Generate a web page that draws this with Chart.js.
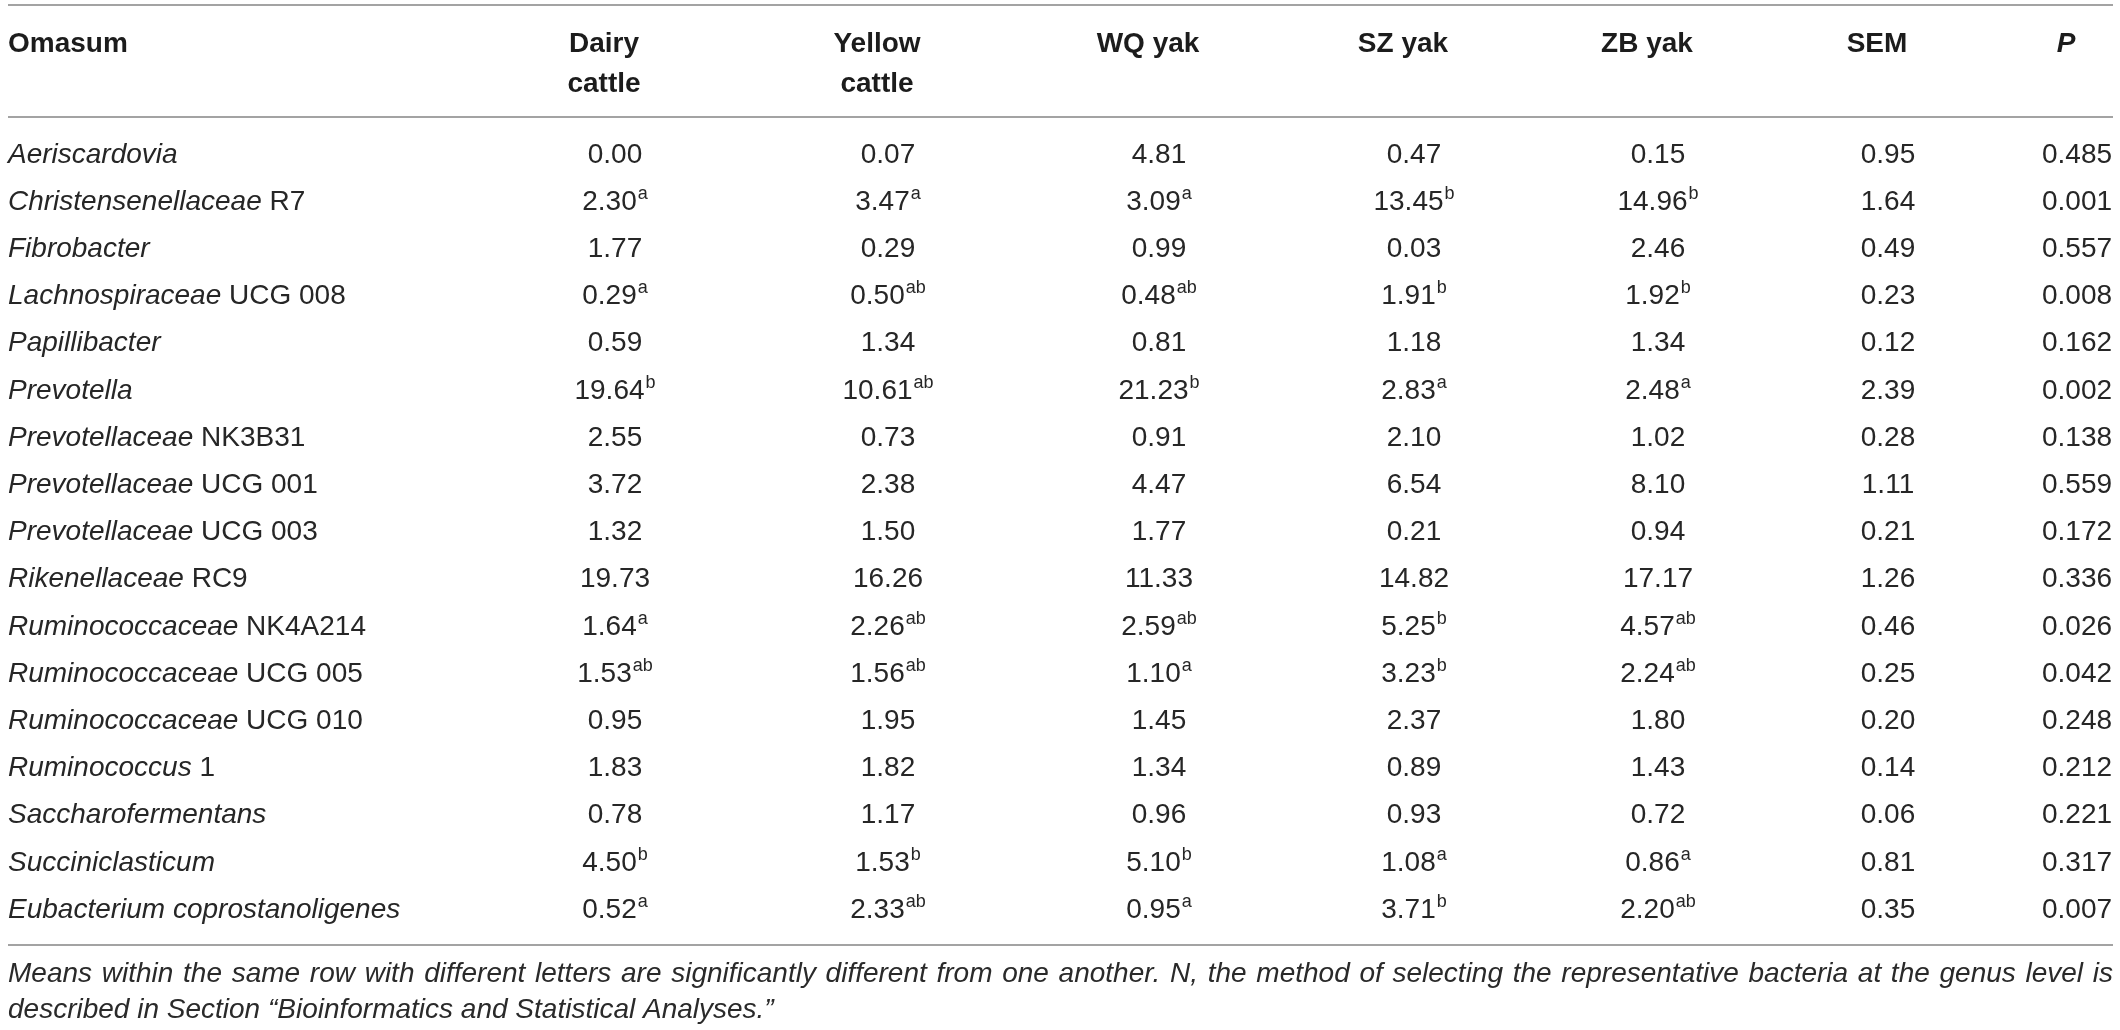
<!DOCTYPE html>
<html>
<head>
<meta charset="utf-8">
<script src="https://cdn.jsdelivr.net/npm/chart.js@4.4.1/dist/chart.umd.min.js"></script>
<style>
html,body{margin:0;padding:0;background:#fff;overflow:hidden;}
#wrap{position:relative;width:2120px;height:1030px;}
</style>
</head>
<body>
<div id="wrap"><canvas id="c"></canvas></div>
<script>
// ---- Data ----
const stubHeader = "Omasum";
const columns = [["Dairy","cattle"],["Yellow","cattle"],["WQ yak"],["SZ yak"],["ZB yak"],["SEM"],["P"]];
const genusItalic = ["Aeriscardovia","Christensenellaceae","Fibrobacter","Lachnospiraceae","Papillibacter","Prevotella","Prevotellaceae","Prevotellaceae","Prevotellaceae","Rikenellaceae","Ruminococcaceae","Ruminococcaceae","Ruminococcaceae","Ruminococcus","Saccharofermentans","Succiniclasticum","Eubacterium coprostanoligenes"];
const genusSuffix = ["", " R7", "", " UCG 008", "", "", " NK3B31", " UCG 001", " UCG 003", " RC9", " NK4A214", " UCG 005", " UCG 010", " 1", "", "", ""];
const dairy  = [0.00, 2.30, 1.77, 0.29, 0.59, 19.64, 2.55, 3.72, 1.32, 19.73, 1.64, 1.53, 0.95, 1.83, 0.78, 4.50, 0.52];
const dairySup  = ["", "a", "", "a", "", "b", "", "", "", "", "a", "ab", "", "", "", "b", "a"];
const yellow = [0.07, 3.47, 0.29, 0.50, 1.34, 10.61, 0.73, 2.38, 1.50, 16.26, 2.26, 1.56, 1.95, 1.82, 1.17, 1.53, 2.33];
const yellowSup = ["", "a", "", "ab", "", "ab", "", "", "", "", "ab", "ab", "", "", "", "b", "ab"];
const wqYak  = [4.81, 3.09, 0.99, 0.48, 0.81, 21.23, 0.91, 4.47, 1.77, 11.33, 2.59, 1.10, 1.45, 1.34, 0.96, 5.10, 0.95];
const wqSup  = ["", "a", "", "ab", "", "b", "", "", "", "", "ab", "a", "", "", "", "b", "a"];
const szYak  = [0.47, 13.45, 0.03, 1.91, 1.18, 2.83, 2.10, 6.54, 0.21, 14.82, 5.25, 3.23, 2.37, 0.89, 0.93, 1.08, 3.71];
const szSup  = ["", "b", "", "b", "", "a", "", "", "", "", "b", "b", "", "", "", "a", "b"];
const zbYak  = [0.15, 14.96, 2.46, 1.92, 1.34, 2.48, 1.02, 8.10, 0.94, 17.17, 4.57, 2.24, 1.80, 1.43, 0.72, 0.86, 2.20];
const zbSup  = ["", "b", "", "b", "", "a", "", "", "", "", "ab", "ab", "", "", "", "a", "ab"];
const sem    = [0.95, 1.64, 0.49, 0.23, 0.12, 2.39, 0.28, 1.11, 0.21, 1.26, 0.46, 0.25, 0.20, 0.14, 0.06, 0.81, 0.35];
const pValue = [0.485, 0.001, 0.557, 0.008, 0.162, 0.002, 0.138, 0.559, 0.172, 0.336, 0.026, 0.042, 0.248, 0.212, 0.221, 0.317, 0.007];
const footnoteLine1 = "Means within the same row with different letters are significantly different from one another. N, the method of selecting the representative bacteria at the genus level is";
const footnoteLine2 = "described in Section \u201cBioinformatics and Statistical Analyses.\u201d";

// ---- Layout (scale units) ----
const colX = [615, 888, 1159, 1414, 1658, 1888, 2077];
const stubX = 8, ruleX0 = 8, ruleX1 = 2113;
const headerRows = [-2.341, -1.494];
const ruleRows = [-3.337, -0.964, 16.578];
const footRows = [17.362, 18.125];

const FONT = '"Liberation Sans", Arial, Helvetica, sans-serif';
const valueCols = [[dairy,dairySup,2],[yellow,yellowSup,2],[wqYak,wqSup,2],[szYak,szSup,2],[zbYak,zbSup,2],[sem,null,2],[pValue,null,3]];

const datasets = valueCols.map((vc, c) => ({
  label: columns[c].join(" "),
  data: vc[0].map((v, i) => ({x: colX[c], y: i, v: v})),
  pointRadius: 0, showLine: false
}));
datasets.push({label: "stub", data: genusItalic.map((g, i) => ({x: stubX, y: i})), pointRadius: 0, showLine: false});

const tablePlugin = {
  id: 'tableText',
  afterDatasetsDraw(chart) {
    const ctx = chart.ctx, xs = chart.scales.x, ys = chart.scales.y;
    ctx.save();
    // rules
    ctx.strokeStyle = '#a3a3a3';
    ctx.lineWidth = 2;
    ruleRows.forEach(r => {
      const y = Math.round(ys.getPixelForValue(r)) ;
      ctx.beginPath();
      ctx.moveTo(xs.getPixelForValue(ruleX0), y);
      ctx.lineTo(xs.getPixelForValue(ruleX1), y);
      ctx.stroke();
    });
    ctx.textBaseline = 'alphabetic';
    // header
    ctx.fillStyle = '#1c1c1c';
    ctx.font = 'bold 28px ' + FONT;
    ctx.textAlign = 'left';
    ctx.fillText(stubHeader, xs.getPixelForValue(stubX), ys.getPixelForValue(headerRows[0]));
    ctx.textAlign = 'center';
    columns.forEach((lines, c) => {
      ctx.font = (c === 6 ? 'italic bold 28px ' : 'bold 28px ') + FONT;
      lines.forEach((t, k) => {
        ctx.fillText(t, xs.getPixelForValue(colX[c]) - 11, ys.getPixelForValue(headerRows[k]));
      });
    });
    // stub column
    ctx.fillStyle = '#262626';
    ctx.textAlign = 'left';
    const stubMeta = chart.getDatasetMeta(datasets.length - 1);
    stubMeta.data.forEach((pt, i) => {
      ctx.font = 'italic 28px ' + FONT;
      ctx.fillText(genusItalic[i], pt.x, pt.y);
      const w = ctx.measureText(genusItalic[i]).width;
      if (genusSuffix[i]) {
        ctx.font = '28px ' + FONT;
        ctx.fillText(genusSuffix[i], pt.x + w, pt.y);
      }
    });
    // values
    valueCols.forEach((vc, c) => {
      const meta = chart.getDatasetMeta(c);
      meta.data.forEach((pt, i) => {
        const txt = vc[0][i].toFixed(vc[2]);
        const sup = vc[1] ? vc[1][i] : "";
        ctx.font = '28px ' + FONT;
        const w = ctx.measureText(txt).width;
        ctx.font = '18px ' + FONT;
        const ws = sup ? ctx.measureText(sup).width + 1 : 0;
        const x0 = pt.x - (w + ws) / 2;
        ctx.textAlign = 'left';
        ctx.font = '28px ' + FONT;
        ctx.fillText(txt, x0, pt.y);
        if (sup) {
          ctx.font = '18px ' + FONT;
          ctx.fillText(sup, x0 + w + 1, pt.y - 11);
        }
      });
    });
    // footnote
    ctx.font = 'italic 28px ' + FONT;
    ctx.fillStyle = '#2a2a2a';
    ctx.textAlign = 'left';
    const fx0 = xs.getPixelForValue(ruleX0), fx1 = xs.getPixelForValue(ruleX1);
    const words = footnoteLine1.split(' ');
    const wordsW = words.map(w => ctx.measureText(w).width);
    const total = wordsW.reduce((a, b) => a + b, 0);
    const gap = (fx1 - fx0 - total) / (words.length - 1);
    let fx = fx0;
    const fy1 = ys.getPixelForValue(footRows[0]);
    words.forEach((w, k) => { ctx.fillText(w, fx, fy1); fx += wordsW[k] + gap; });
    ctx.fillText(footnoteLine2, fx0, ys.getPixelForValue(footRows[1]));
    ctx.restore();
  }
};

new Chart(document.getElementById('c'), {
  type: 'scatter',
  data: { datasets: datasets },
  options: {
    responsive: true, maintainAspectRatio: false, animation: false,
    layout: { padding: 0 },
    plugins: { legend: { display: false }, tooltip: { enabled: false } },
    events: [],
    scales: {
      x: { type: 'linear', min: 0, max: 2120, display: false },
      y: { type: 'linear', min: -162.5 / 47.2, max: -162.5 / 47.2 + 1030 / 47.2, reverse: true, display: false }
    }
  },
  plugins: [tablePlugin]
});
</script>
</body>
</html>
